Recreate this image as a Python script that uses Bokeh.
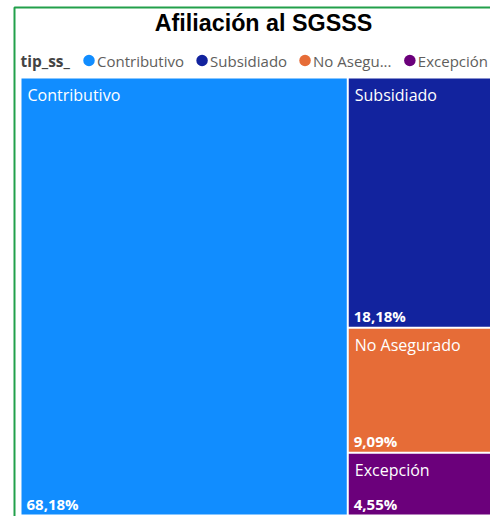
from bokeh.plotting import figure
from bokeh.models import Range1d, ColumnDataSource
from bokeh.core.properties import value
from bokeh.embed import file_html
from bokeh.resources import INLINE

# ---- data ----
title = "Afiliación al SGSSS"
legend_title = "tip_ss_"
categories = ["Contributivo", "Subsidiado", "No Asegurado", "Excepción"]
legend_labels = ["Contributivo", "Subsidiado", "No Asegu...", "Excepción"]
percentages = [68.18, 18.18, 9.09, 4.55]
colors = ["#118DFF", "#12239E", "#E66C37", "#6B007B"]

W, H = 490, 516
FONT = "Open Sans"

p = figure(width=W, height=H, x_range=Range1d(0, W), y_range=Range1d(H, 0),
           output_backend="svg", toolbar_location=None, min_border=0)
p.axis.visible = False
p.grid.visible = False
p.outline_line_color = None
p.background_fill_color = "white"
p.border_fill_color = "white"


# ---- squarified treemap layout ----
def worst(row, side):
    s = sum(row)
    return max(max(side * side * r / (s * s), s * s / (side * side * r)) for r in row)


def layout_row(row, x, y, w, h):
    s = sum(row)
    rects = []
    if w >= h:
        cw = s / h
        yy = y
        for a in row:
            rh = a / cw
            rects.append((x, yy, cw, rh))
            yy += rh
        return rects, (x + cw, y, w - cw, h)
    rh = s / w
    xx = x
    for a in row:
        rw = a / rh
        rects.append((xx, y, rw, rh))
        xx += rw
    return rects, (x, y + rh, w, h - rh)


def squarify(vals, x, y, w, h):
    total = sum(vals)
    areas = [v / total * w * h for v in vals]
    rects, row = [], []
    while areas:
        side = min(w, h)
        a = areas[0]
        if not row or worst(row + [a], side) <= worst(row, side):
            row.append(a)
            areas.pop(0)
        else:
            r, (x, y, w, h) = layout_row(row, x, y, w, h)
            rects += r
            row = []
    if row:
        r, _ = layout_row(row, x, y, w, h)
        rects += r
    return rects


area_x, area_y, area_w, area_h = 20, 77, 480, 438
inset = 1
rects = squarify(percentages, area_x, area_y, area_w, area_h)

src = ColumnDataSource(dict(
    left=[r[0] + inset for r in rects],
    right=[r[0] + r[2] - inset for r in rects],
    top=[r[1] + inset for r in rects],
    bottom=[r[1] + r[3] - inset for r in rects],
    color=colors,
    cat=categories,
    pct=[f"{v:.2f}".replace(".", ",") + "%" for v in percentages],
    cx=[r[0] + inset + 6 for r in rects],
    cy=[r[1] + inset + 16 for r in rects],
    vx=[r[0] + inset + 5 for r in rects],
    vy=[r[1] + r[3] - inset - 10.5 for r in rects],
))
p.quad(left="left", right="right", top="top", bottom="bottom", source=src,
       fill_color="color", line_color=None)
p.text(x="cx", y="cy", text="cat", source=src, text_color="white",
       text_font=value(FONT), text_font_size="16px", text_baseline="middle")
p.text(x="vx", y="vy", text="pct", source=src, text_color="white",
       text_font=value(FONT), text_font_size="15px", text_font_style="bold",
       text_baseline="middle")

# ---- card border ----
p.quad(left=[14], right=[540], top=[7], bottom=[540], fill_color=None,
       line_color="#22A04B", line_width=2)

# ---- title ----
p.text(x=[263], y=[22], text=[title], text_font=value("Liberation Sans"),
       text_font_size="23.3px", text_font_style="bold", text_color="black",
       text_align="center", text_baseline="middle")

# ---- legend (manual, widths from Open Sans advance metrics, 2048 upm) ----
ADV = {"C": 1300, "o": 1237, "n": 1257, "t": 723, "r": 836, "i": 518, "b": 1255,
       "u": 1257, "v": 1026, "S": 1098, "s": 977, "d": 1255, "a": 1139,
       "N": 1556, " ": 532, "A": 1296, "e": 1149, "g": 1122, ".": 545,
       "E": 1128, "x": 1073, "c": 975, "p": 1255, "ó": 1237}
LEG_SIZE = 15


def text_width(s, size=LEG_SIZE):
    return sum(ADV.get(ch, 1150) for ch in s) / 2048 * size


legend_y = 60
p.text(x=[area_x], y=[legend_y], text=[legend_title], text_font=value(FONT),
       text_font_size="15.5px", text_font_style="bold", text_color="#444444",
       text_baseline="middle")

dot_x, txt_x = [], []
cursor = 88.5
for lab in legend_labels:
    dot_x.append(cursor)
    txt_x.append(cursor + 8)
    cursor += 8 + text_width(lab) + 18

p.scatter(x=dot_x, y=[legend_y] * len(dot_x), marker="circle", size=11.5,
          fill_color=colors, line_color=None)
p.text(x=txt_x, y=[legend_y] * len(txt_x), text=legend_labels,
       text_font=value(FONT), text_font_size=f"{LEG_SIZE}px",
       text_color="#605E5C", text_baseline="middle")

open("out.html", "w").write(file_html(p, INLINE))
